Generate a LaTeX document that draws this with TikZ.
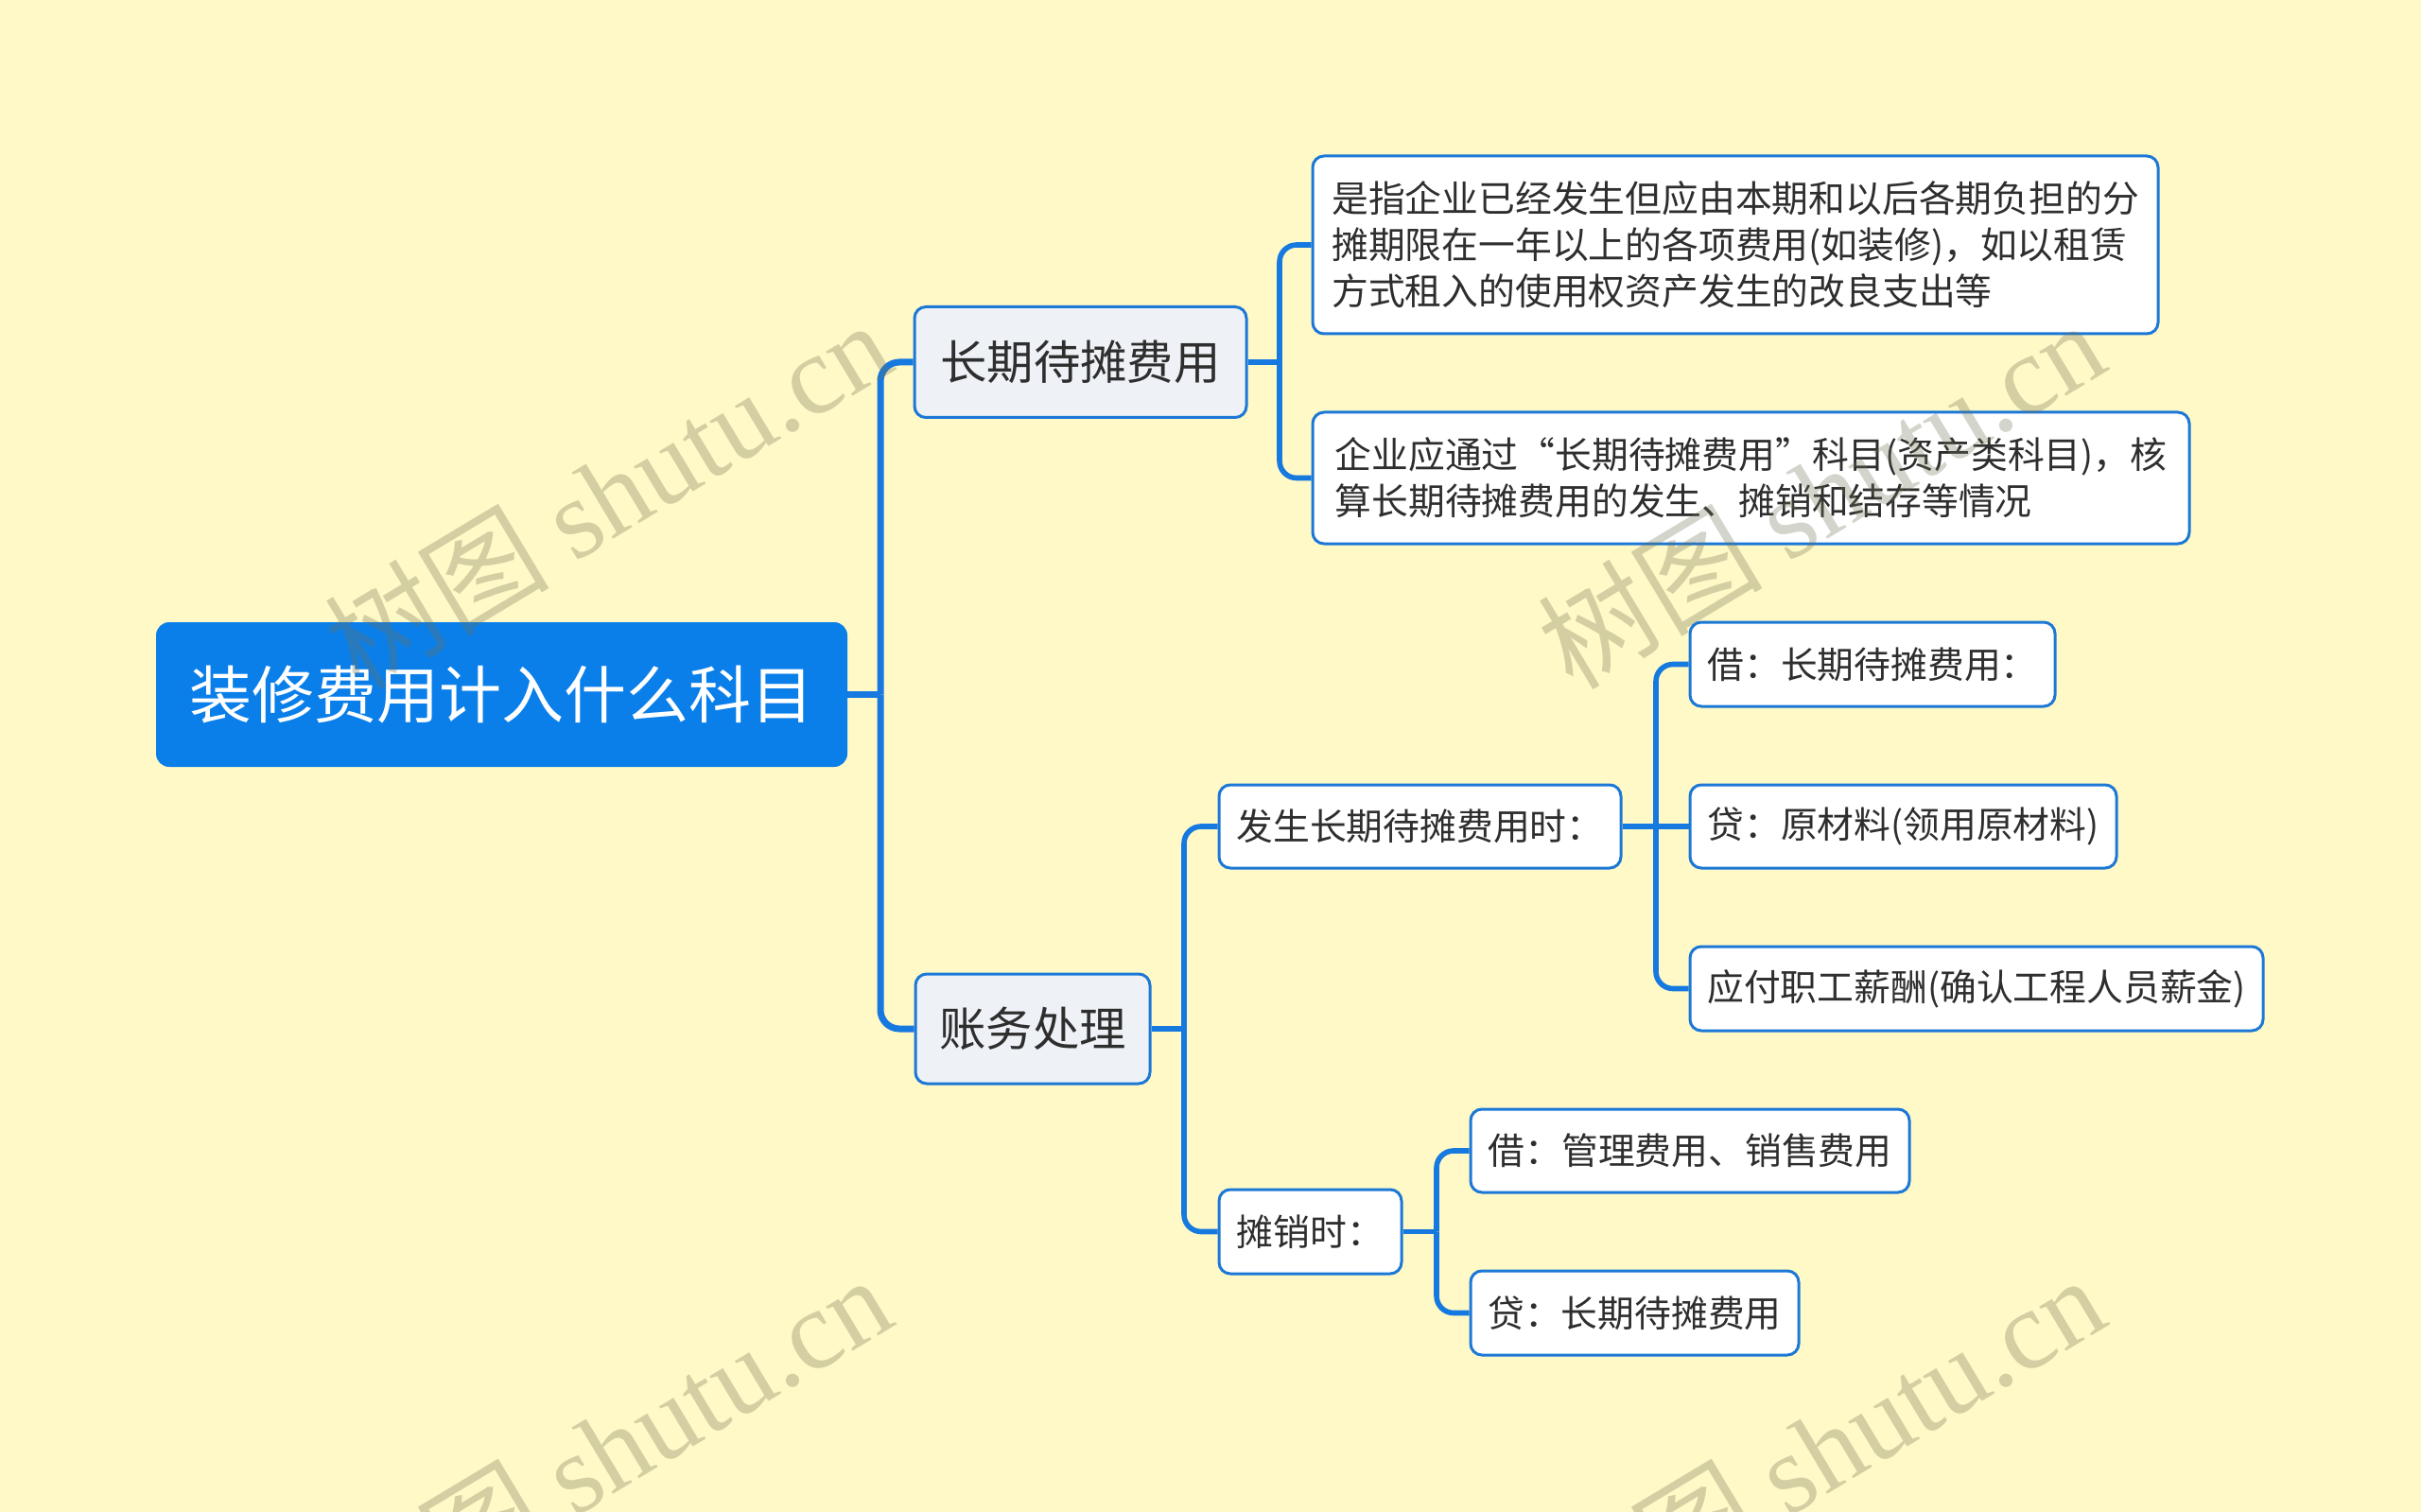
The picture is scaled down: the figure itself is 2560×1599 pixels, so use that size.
\documentclass[tikz,border=0pt]{standalone}
\usepackage{fontspec}
\setmainfont{Noto Sans CJK SC}
\newfontfamily\wmcjk{Noto Sans CJK SC}
\newfontfamily\wmlat{Liberation Serif}
\usetikzlibrary{backgrounds}
\definecolor{bgc}{HTML}{FFF9C7}
\definecolor{rootc}{HTML}{0A7FEA}
\definecolor{l1c}{HTML}{EEF1F6}
\definecolor{bordc}{HTML}{1C78D6}
\definecolor{linec}{HTML}{1679E0}
\definecolor{txtc}{HTML}{2E2E2E}
\definecolor{wmc}{RGB}{112,113,83}
\tikzset{
  basebox/.style={draw=bordc, line width=1.5pt, rounded corners=6pt, text=txtc, inner sep=0pt, align=center},
  rootbox/.style={fill=rootc, draw=none, rounded corners=7pt, text=white, inner sep=0pt, font=\fontsize{33pt}{40pt}\selectfont},
  l1box/.style={basebox, fill=l1c, font=\fontsize{24.7pt}{30pt}\selectfont},
  leafbox/.style={basebox, fill=white, font=\fontsize{19.4pt}{24.5pt}\selectfont},
  rootconn/.style={draw=linec, line width=3.5pt, rounded corners=10pt},
  conn/.style={draw=linec, line width=2.8pt, rounded corners=9pt},
  wmark/.style={text=wmc, opacity=0.3, rotate=31, inner sep=0pt}
}
\begin{document}
\begin{tikzpicture}[x=0.5pt,y=-0.5pt]
\useasboundingbox (0,0) rectangle (2560,1599);
\begin{pgfonlayer}{background}
\fill[bgc] (0,0) rectangle (2560,1599);
\end{pgfonlayer}

% nodes
\node[rootbox, minimum width=365.5pt, minimum height=76.5pt] (root) at (530.5,734.5) {装修费用计入什么科目};
\node[l1box, minimum width=175.5pt, minimum height=58.5pt] (l1a) at (1142.5,383) {长期待摊费用};
\node[l1box, minimum width=124pt, minimum height=58pt] (l1b) at (1092,1088) {账务处理};
\node[leafbox, minimum width=447pt, minimum height=94pt, align=left] (d1) at (1835,259)
  {是指企业已经发生但应由本期和以后各期负担的分\\摊期限在一年以上的各项费用(如装修)，如以租赁\\方式租入的使用权资产发生的改良支出等};
\node[leafbox, minimum width=463.5pt, minimum height=69.5pt, align=left] (d2) at (1851.5,505.5)
  {企业应通过“长期待摊费用”科目(资产类科目)，核\\算长期待摊费用的发生、摊销和结存等情况};
\node[leafbox, minimum width=212.5pt, minimum height=44pt] (l2a) at (1501.5,874) {发生长期待摊费用时：};
\node[leafbox, minimum width=193pt, minimum height=44.5pt] (l3a) at (1980,702.5) {借：长期待摊费用：};
\node[leafbox, minimum width=225.5pt, minimum height=44pt] (l3b) at (2012.5,874) {贷：原材料(领用原材料)};
\node[leafbox, minimum width=303pt, minimum height=44.5pt] (l3c) at (2090,1045.5) {应付职工薪酬(确认工程人员薪金)};
\node[leafbox, minimum width=96.5pt, minimum height=44.5pt] (l2b) at (1385.5,1302.5) {摊销时：};
\node[leafbox, minimum width=232pt, minimum height=44pt] (l3d) at (1787,1217) {借：管理费用、销售费用};
\node[leafbox, minimum width=173.5pt, minimum height=44.5pt] (l3e) at (1728.5,1388.5) {贷：长期待摊费用};

% junction points
\coordinate (t0) at (931,734.5);
\coordinate (t1) at (1353,383);
\coordinate (t2) at (1252,1088);
\coordinate (t3) at (1751,874);
\coordinate (t4) at (1519,1302.5);

\begin{pgfonlayer}{background}
\draw[rootconn] (root.east) -- (t0);
\draw[rootconn] (t0) |- (l1a.west);
\draw[rootconn] (t0) |- (l1b.west);
\draw[conn] (l1a.east) -- (t1);
\draw[conn] (t1) |- (d1.west);
\draw[conn] (t1) |- (d2.west);
\draw[conn] (l1b.east) -- (t2);
\draw[conn] (t2) |- (l2a.west);
\draw[conn] (t2) |- (l2b.west);
\draw[conn] (l2a.east) -- (t3);
\draw[conn] (t3) |- (l3a.west);
\draw[conn] (t3) -- (l3b.west);
\draw[conn] (t3) |- (l3c.west);
\draw[conn] (l2b.east) -- (t4);
\draw[conn] (t4) |- (l3d.west);
\draw[conn] (t4) |- (l3e.west);
\end{pgfonlayer}

% watermarks
\node[wmark] (w1) at (642,522) {\fontsize{59.5pt}{60pt}\wmcjk 树图\ \wmlat shutu.cn};
\node[wmark] (w2) at (1925,522) {\fontsize{59.5pt}{60pt}\wmcjk 树图\ \wmlat shutu.cn};
\node[wmark] (w3) at (642,1532) {\fontsize{59.5pt}{60pt}\wmcjk 树图\ \wmlat shutu.cn};
\node[wmark] (w4) at (1925,1532) {\fontsize{59.5pt}{60pt}\wmcjk 树图\ \wmlat shutu.cn};
\end{tikzpicture}
\end{document}
